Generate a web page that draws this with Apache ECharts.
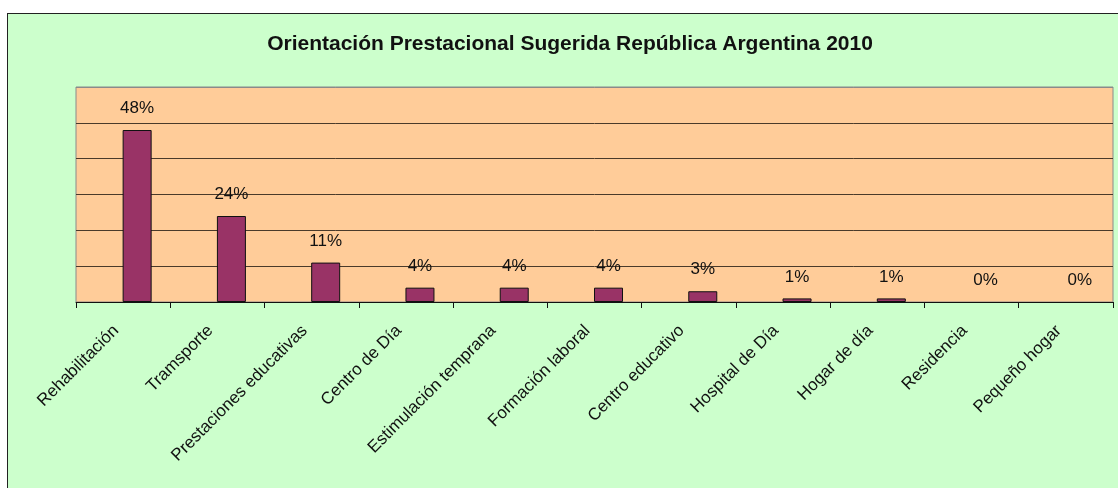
<!DOCTYPE html>
<html>
<head>
<meta charset="utf-8">
<script src="https://cdn.jsdelivr.net/npm/echarts@6/dist/echarts.min.js"></script>
<style>
  body { margin: 0; background: #fff; overflow: hidden; }
  #frame { position: absolute; left: 7px; top: 13px; width: 1130px; height: 490px;
           border: 1px solid #222; background: #ccffcc; }
  #chart { width: 1130px; height: 490px; }
</style>
</head>
<body>
<div id="frame"><div id="chart"></div></div>
<script>
var categories = ['Rehabilitación', 'Tramsporte', 'Prestaciones educativas', 'Centro de Día',
  'Estimulación temprana', 'Formación laboral', 'Centro educativo', 'Hospital de Día',
  'Hogar de día', 'Residencia', 'Pequeño hogar'];
var percentages = [48, 24, 11, 4, 4, 4, 3, 1, 1, 0, 0];

// zero bars get no outline, like the original
var barData = percentages.map(function (v) {
  return v === 0 ? { value: v, itemStyle: { borderWidth: 0 } } : v;
});

var chart = echarts.init(document.getElementById('chart'));

chart.setOption({
  animation: false,
  textStyle: { fontFamily: 'Liberation Sans, Arial, sans-serif' },
  title: {
    text: 'Orientación Prestacional Sugerida República Argentina 2010',
    left: 557,
    textAlign: 'center',
    top: 15,
    textStyle: { fontSize: 21, fontWeight: 'bold', color: '#111' }
  },
  grid: {
    left: 68, top: 73, width: 1037, height: 215,
    show: true, backgroundColor: '#ffcc99', borderColor: '#8a8a8a', borderWidth: 1
  },
  xAxis: {
    type: 'category',
    data: categories,
    boundaryGap: true,
    axisLine: { lineStyle: { color: '#111', width: 1 } },
    axisTick: { show: true, length: 6, lineStyle: { color: '#111' } },
    axisLabel: { rotate: 45, fontSize: 17, color: '#111', margin: 19, interval: 0, padding: [0, 10, 0, 0] }
  },
  yAxis: {
    type: 'value',
    min: 0, max: 60, interval: 10,
    axisLabel: { show: false },
    axisLine: { show: false },
    axisTick: { show: false },
    splitLine: { lineStyle: { color: ['#111', '#4a3a2a', '#4a3a2a', '#4a3a2a', '#4a3a2a', '#4a3a2a', '#8a8a8a'], width: 1 } }
  },
  series: [{
    // empty slot series: the original places each bar right of the category centre
    type: 'bar',
    data: [],
    barWidth: 28
  }, {
    type: 'bar',
    data: barData,
    barWidth: 29,
    barGap: '0%',
    itemStyle: { color: '#993366', borderColor: '#111', borderWidth: 1 },
    label: {
      show: true, position: 'top', distance: 13,
      formatter: '{c}%', fontSize: 17, color: '#111'
    }
  }]
});
</script>
</body>
</html>
